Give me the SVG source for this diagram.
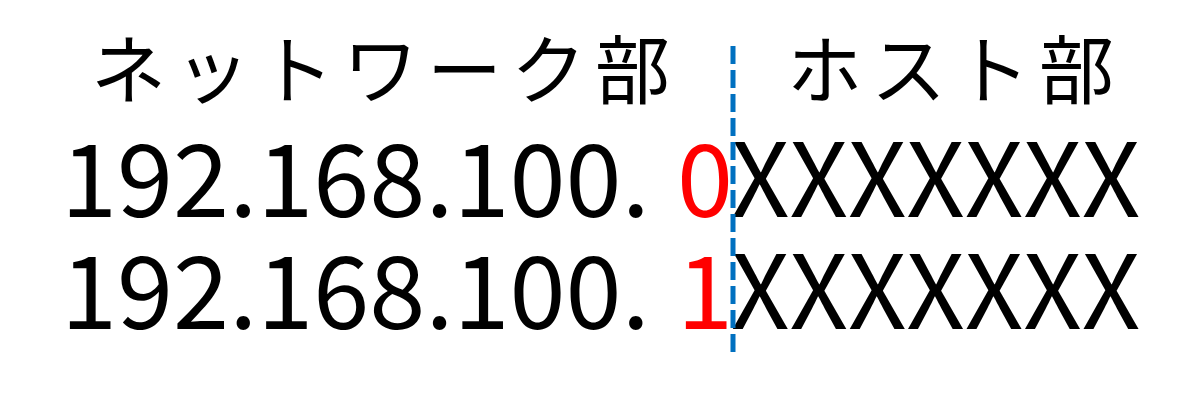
<svg xmlns="http://www.w3.org/2000/svg" width="1200" height="415" viewBox="0 0 1200 415">
<style>
.t{font-family:"Noto Sans CJK JP","Noto Sans",sans-serif;fill:#000}
.h{font-size:75px;letter-spacing:9px}
.n{font-size:101px}
.x{font-size:102px}
.r{fill:#FF0000}
.div{stroke:#0070C0;stroke-width:5;stroke-dasharray:18 6;fill:none}
</style>
<rect width="1200" height="415" fill="#fff"/>
<g id="network-label"><text class="t h" x="91" y="98">ネットワーク部</text></g>
<g id="host-label"><text class="t h" x="787" y="98">ホスト部</text></g>
<g id="row1">
<text class="t n" x="61" y="217">192.168.100.</text>
<text class="t n r" x="677" y="217">0</text>
<text class="t x" x="731" y="217">XXXXXXX</text>
</g>
<g id="row2">
<text class="t n" x="61" y="329">192.168.100.</text>
<text class="t n r" x="677" y="329">1</text>
<text class="t x" x="731" y="329">XXXXXXX</text>
</g>
<g id="connectors">
<line class="div" x1="733" y1="46" x2="733" y2="352"/>
</g>
</svg>
